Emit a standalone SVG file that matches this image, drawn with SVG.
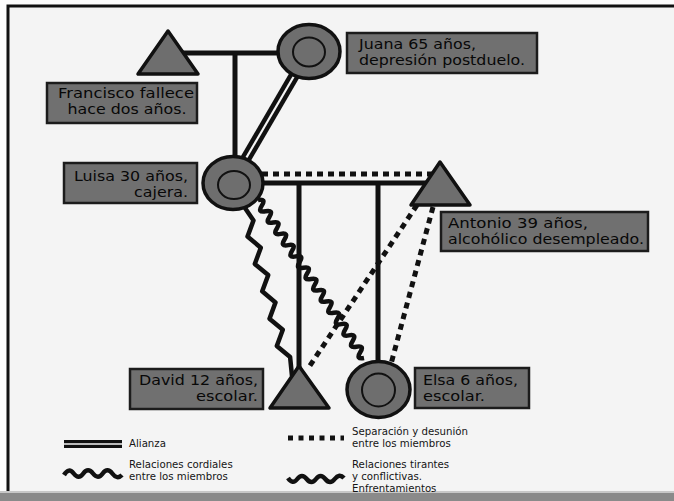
<svg xmlns="http://www.w3.org/2000/svg" width="674" height="501" viewBox="0 0 674 501">
<style>
.node{fill:#6e6e6e;stroke:#111;stroke-width:3.5;stroke-linejoin:round}
.inner{fill:none;stroke:#111;stroke-width:2}
.box{fill:#707070;stroke:#1c1c1c;stroke-width:2.5}
.lbl{font-family:"DejaVu Sans",Verdana,sans-serif;font-size:13.7px;fill:#080808}
.r{text-anchor:end}
.m{text-anchor:middle}
.leg{font-family:"DejaVu Sans",Verdana,sans-serif;font-size:10.2px;fill:#151515}
.solid{stroke:#111;stroke-width:5;fill:none}
.dot{stroke:#111;stroke-width:5;fill:none;stroke-dasharray:6 5}
.wave{stroke:#111;stroke-width:4.5;fill:none;stroke-linejoin:round}
</style>
<rect x="0" y="0" width="674" height="501" fill="#fdfdfd"/>
<rect x="8" y="6" width="680" height="490" fill="#f4f4f4" stroke="#111" stroke-width="3"/>
<rect x="0" y="491" width="674" height="2" fill="#c8c8c8"/>
<rect x="0" y="493" width="674" height="8" fill="#8a8a8a"/>

<g id="connectors">
  <line class="solid" x1="180" y1="53" x2="290" y2="53"/>
  <line class="solid" x1="235" y1="53" x2="235" y2="165"/>
  <line x1="301" y1="64" x2="238" y2="172" stroke="#111" stroke-width="11"/>
  <line x1="301" y1="64" x2="238" y2="172" stroke="#f4f4f4" stroke-width="2.2"/>
  <line class="solid" x1="250" y1="183" x2="430" y2="183"/>
  <line class="solid" x1="299" y1="183" x2="299" y2="372"/>
  <line class="solid" x1="378" y1="183" x2="378" y2="370"/>
  <line class="dot" x1="262" y1="174" x2="434" y2="174"/>
  <line class="dot" x1="417" y1="205" x2="309" y2="367"/>
  <line class="dot" x1="433" y1="207" x2="391" y2="364"/>
  <polyline class="wave" points="245,208 253.5,220.4 247.5,236.6 260.8,247.7 254.8,264 268.2,275.1 262.2,291.3 275.5,302.4 269.5,318.7 282.8,329.7 276.8,346 290.1,357.1 292,376"/>
  <path class="wave" stroke-width="4" d="M258,200 Q266.53,198.36 261.79,205.64 T265.57,211.28 T269.36,216.92 T273.14,222.56 T276.93,228.21 T280.72,233.85 T284.5,239.49 T288.29,245.13 T292.07,250.77 T295.86,256.41 T299.65,262.05 T303.43,267.69 T307.22,273.33 T311,278.97 T314.79,284.62 T318.58,290.26 T322.36,295.9 T326.15,301.54 T329.93,307.18 T333.72,312.82 T337.51,318.46 T341.29,324.1 T345.08,329.74 T348.86,335.38 T352.65,341.03 T356.44,346.67 T360.22,352.31 T364.01,357.95"/>
</g>

<g id="francisco">
  <polygon class="node" points="168,31 138,74 198,74"/>
  <rect class="box" x="47" y="83" width="150" height="40"/>
  <text class="lbl m" x="126" y="98" textLength="136" lengthAdjust="spacingAndGlyphs">Francisco fallece</text>
  <text class="lbl m" x="127" y="114" textLength="119" lengthAdjust="spacingAndGlyphs">hace dos años.</text>
</g>
<g id="juana">
  <ellipse class="node" cx="309" cy="51.5" rx="31" ry="27"/>
  <ellipse class="inner" cx="309" cy="52" rx="16" ry="14.5"/>
  <rect class="box" x="347" y="33" width="190" height="40"/>
  <text class="lbl" x="359" y="49" textLength="117" lengthAdjust="spacingAndGlyphs">Juana 65 años,</text>
  <text class="lbl" x="359" y="65" textLength="166" lengthAdjust="spacingAndGlyphs">depresión postduelo.</text>
</g>
<g id="luisa">
  <ellipse class="node" cx="233" cy="183" rx="30" ry="26.5"/>
  <ellipse class="inner" cx="234" cy="185" rx="16" ry="14"/>
  <rect class="box" x="64" y="163" width="133" height="40"/>
  <text class="lbl r" x="188" y="181" textLength="114" lengthAdjust="spacingAndGlyphs">Luisa 30 años,</text>
  <text class="lbl r" x="188" y="197" textLength="54" lengthAdjust="spacingAndGlyphs">cajera.</text>
</g>
<g id="antonio">
  <polygon class="node" points="440,162 411,205 470,205"/>
  <rect class="box" x="441" y="212" width="207" height="39"/>
  <text class="lbl" x="448" y="228" textLength="140" lengthAdjust="spacingAndGlyphs">Antonio 39 años,</text>
  <text class="lbl" x="448" y="244" textLength="196" lengthAdjust="spacingAndGlyphs">alcohólico desempleado.</text>
</g>
<g id="david">
  <polygon class="node" points="299,366 270,408 329,408"/>
  <rect class="box" x="130" y="369" width="133" height="40"/>
  <text class="lbl r" x="258" y="385" textLength="119" lengthAdjust="spacingAndGlyphs">David 12 años,</text>
  <text class="lbl r" x="258" y="401" textLength="62" lengthAdjust="spacingAndGlyphs">escolar.</text>
</g>
<g id="elsa">
  <ellipse class="node" cx="378.5" cy="389.5" rx="31.5" ry="28"/>
  <ellipse class="inner" cx="378.5" cy="390" rx="16.5" ry="16.5"/>
  <rect class="box" x="415" y="368" width="114" height="40"/>
  <text class="lbl" x="423" y="385" textLength="95" lengthAdjust="spacingAndGlyphs">Elsa 6 años,</text>
  <text class="lbl" x="423" y="401" textLength="62" lengthAdjust="spacingAndGlyphs">escolar.</text>
</g>

<g id="legend">
  <rect x="64" y="440" width="58" height="8" fill="#111"/>
  <line x1="64" y1="444" x2="122" y2="444" stroke="#f4f4f4" stroke-width="1.5"/>
  <text class="leg" x="129" y="447">Alianza</text>
  <line x1="288" y1="438" x2="344" y2="438" stroke="#111" stroke-width="5" stroke-dasharray="5 5.5"/>
  <text class="leg" x="352" y="435">Separación y desunión</text>
  <text class="leg" x="352" y="447">entre los miembros</text>
  <path class="wave" d="M64,475 Q68.8,467 73.7,473.5 T83.3,473.5 T93,473.5 T102.7,473.5 T112.3,473.5 T122,475"/>
  <text class="leg" x="129" y="468">Relaciones cordiales</text>
  <text class="leg" x="129" y="480">entre los miembros</text>
  <path class="wave" stroke-width="4" d="M288,478 Q292.7,485 297.3,479 T306.7,479 T316,479 T325.3,479 T334.7,479 T344,478"/>
  <text class="leg" x="352" y="468">Relaciones tirantes</text>
  <text class="leg" x="352" y="480">y conflictivas.</text>
  <text class="leg" x="352" y="492">Enfrentamientos</text>
</g>
</svg>
